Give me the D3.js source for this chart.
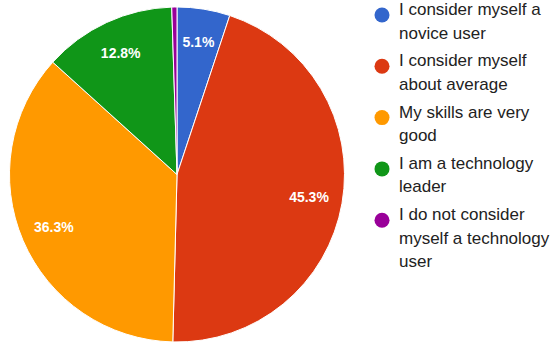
<!DOCTYPE html>
<html lang="en">
<head>
<meta charset="UTF-8">
<title>Technology skills self-assessment</title>
<script src="https://d3js.org/d3.v7.min.js"></script>
<style>
  body {
    margin: 0;
    background: #fff;
    font-family: Arial, "Liberation Sans", sans-serif;
  }
</style>
</head>
<body>
<div id="chart"></div>
<script>

// ------ Data ------
const categories = [
  "I consider myself a novice user",
  "I consider myself about average",
  "My skills are very good",
  "I am a technology leader",
  "I do not consider myself a technology user"
];
const values = [5.1, 45.3, 36.3, 12.8, 0.5];
const colors = ["#3366cc", "#dc3912", "#ff9900", "#109618", "#990099"];

// ------ Layout ------
const width = 558;
const height = 343;
const cx = 177, cy = 174.5;
const radius = 167.5;

const svg = d3.select("#chart")
  .append("svg")
    .attr("width", width)
    .attr("height", height);

const data = categories.map((c, i) => ({ name: c, value: values[i], color: colors[i] }));

const pie = d3.pie()
    .sort(null)
    .value(d => d.value);

const arc = d3.arc()
    .innerRadius(0)
    .outerRadius(radius);

const labelArc = d3.arc()
    .innerRadius(radius * 0.8)
    .outerRadius(radius * 0.8);

const g = svg.append("g")
    .attr("transform", `translate(${cx},${cy})`);

const arcs = pie(data);

g.selectAll("path")
  .data(arcs)
  .join("path")
    .attr("d", arc)
    .attr("fill", d => d.data.color)
    .style("stroke", "#fff")
    .style("stroke-width", "1");

g.selectAll("text")
  .data(arcs.filter(d => d.data.value > 1))
  .join("text")
    .attr("transform", d => `translate(${labelArc.centroid(d)})`)
    .attr("text-anchor", "middle")
    .attr("dy", "0.35em")
    .attr("fill", "#fff")
    .style("font-size", "14px")
    .style("font-weight", "bold")
    .text(d => d.data.value.toFixed(1) + "%");

// ------ Legend ------
const legend = svg.append("g")
    .attr("transform", "translate(382,15)");

const maxTextWidth = 158;

const item = legend.selectAll("g")
  .data(data)
  .join("g");

item.append("circle")
    .attr("r", 7.5)
    .attr("fill", d => d.color);

item.append("text")
    .attr("x", 17)
    .attr("dy", "0.35em")
    .attr("fill", "#222")
    .style("font-size", "17px")
    .each(function(d) {
      const text = d3.select(this);
      const words = d.name.split(" ");
      let line = [];
      let lineNo = 0;
      let tspan = text.append("tspan").attr("x", 17).attr("dy", 0);
      words.forEach(w => {
        line.push(w);
        tspan.text(line.join(" "));
        if (tspan.node().getComputedTextLength() > maxTextWidth && line.length > 1) {
          line.pop();
          tspan.text(line.join(" "));
          line = [w];
          lineNo++;
          tspan = text.append("tspan").attr("x", 17).attr("dy", "23.5px").text(w);
        }
      });
      d.lines = lineNo + 1;
    });

// stack items by their wrapped heights
let yPos = 0;
item.attr("transform", d => {
  const t = `translate(0,${yPos})`;
  yPos += (d.lines - 1) * 23.5 + 27.8;
  return t;
});

</script>
</body>
</html>
